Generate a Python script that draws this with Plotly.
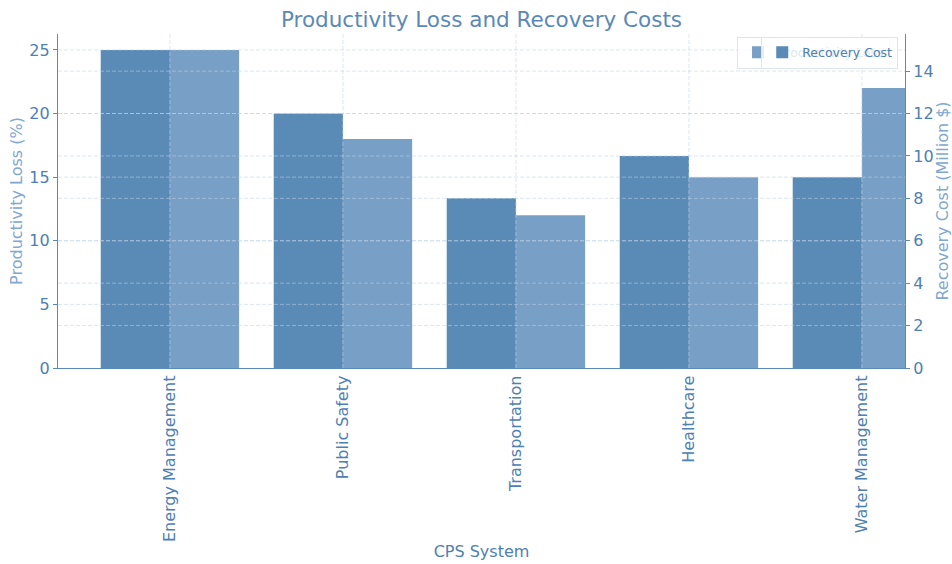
import plotly.graph_objects as go

# --- data ---
systems = ["Energy Management", "Public Safety", "Transportation", "Healthcare", "Water Management"]
productivity_loss = [25, 18, 12, 15, 22]      # % (left axis)
recovery_cost = [15, 12, 8, 10, 9]            # Million $ (right axis)
left_ticks = [0, 5, 10, 15, 20, 25]
right_ticks = [0, 2, 4, 6, 8, 10, 12, 14]

DARK = "#5a8ab6"
LIGHT = "#789fc5"
TEXT = "#4d80b3"
SOFT = "#80a8d0"
FONT = "DejaVu Sans"

fig = go.Figure()

fig.add_trace(go.Bar(
    x=systems, y=productivity_loss, name="Productivity Loss",
    marker=dict(color=LIGHT, line=dict(width=0)),
    width=0.4, offset=0.0, yaxis="y", legend="legend", showlegend=True,
))
fig.add_trace(go.Bar(
    x=systems, y=recovery_cost, name="Recovery Cost",
    marker=dict(color=DARK, line=dict(width=0)),
    width=0.4, offset=-0.4, yaxis="y2", legend="legend2", showlegend=True,
))

# dashed grid drawn over the bars
grid_color = "rgba(190,210,232,0.55)"
grid_line = dict(color=grid_color, width=1, dash="4px,2px")
shapes = []
for v in left_ticks[1:]:
    shapes.append(dict(type="line", xref="paper", x0=0, x1=1, yref="y", y0=v, y1=v,
                       line=grid_line, layer="above"))
for v in right_ticks[1:]:
    shapes.append(dict(type="line", xref="paper", x0=0, x1=1, yref="y2", y0=v, y1=v,
                       line=grid_line, layer="above"))
for s in systems:
    shapes.append(dict(type="line", xref="x", x0=s, x1=s, yref="paper", y0=0, y1=1,
                       line=grid_line, layer="above"))

axis_common = dict(
    showline=True, linecolor=DARK, linewidth=1.3,
    ticks="outside", ticklen=4, tickcolor=DARK,
    tickfont=dict(family=FONT, size=16, color=TEXT),
    showgrid=False, zeroline=False, automargin=False,
)

legend_style = dict(
    bgcolor="rgba(255,255,255,0.8)", bordercolor="#dde6f0", borderwidth=1,
    font=dict(family=FONT, size=12.5, color=TEXT),
    y=0.992, yanchor="top", visible=True,
)

fig.update_layout(
    width=952, height=564,
    margin=dict(l=58, r=47, t=34, b=196),
    paper_bgcolor="white", plot_bgcolor="white",
    barmode="overlay",
    showlegend=True,
    font=dict(family=FONT, color=TEXT),
    title=dict(text="Productivity Loss and Recovery Costs", x=0.5, xref="paper",
               y=0.966, yref="container", yanchor="middle",
               font=dict(family=FONT, size=21.5, color="#5a89b8")),
    xaxis=dict(
        range=[-0.647, 4.249], tickangle=-90,
        showline=True, linecolor=DARK, linewidth=1.3,
        ticks="", tickfont=dict(family=FONT, size=16, color=TEXT),
        showgrid=False, zeroline=False, automargin=False,
        title=dict(text="CPS System", font=dict(family=FONT, size=16, color=TEXT), standoff=4),
    ),
    yaxis=dict(
        range=[0, 26.25], tickvals=left_ticks, **axis_common,
        title=dict(text="Productivity Loss (%)", font=dict(family=FONT, size=16, color=SOFT), standoff=2),
    ),
    yaxis2=dict(
        range=[0, 15.75], tickvals=right_ticks, overlaying="y", side="right", **axis_common,
        title=dict(text="Recovery Cost (Million $)", font=dict(family=FONT, size=16, color=SOFT), standoff=6),
    ),
    legend=dict(x=0.8017, xanchor="left", **legend_style),
    legend2=dict(x=0.992, xanchor="right", **legend_style),
    shapes=shapes,
)

fig.write_html("out.html")
